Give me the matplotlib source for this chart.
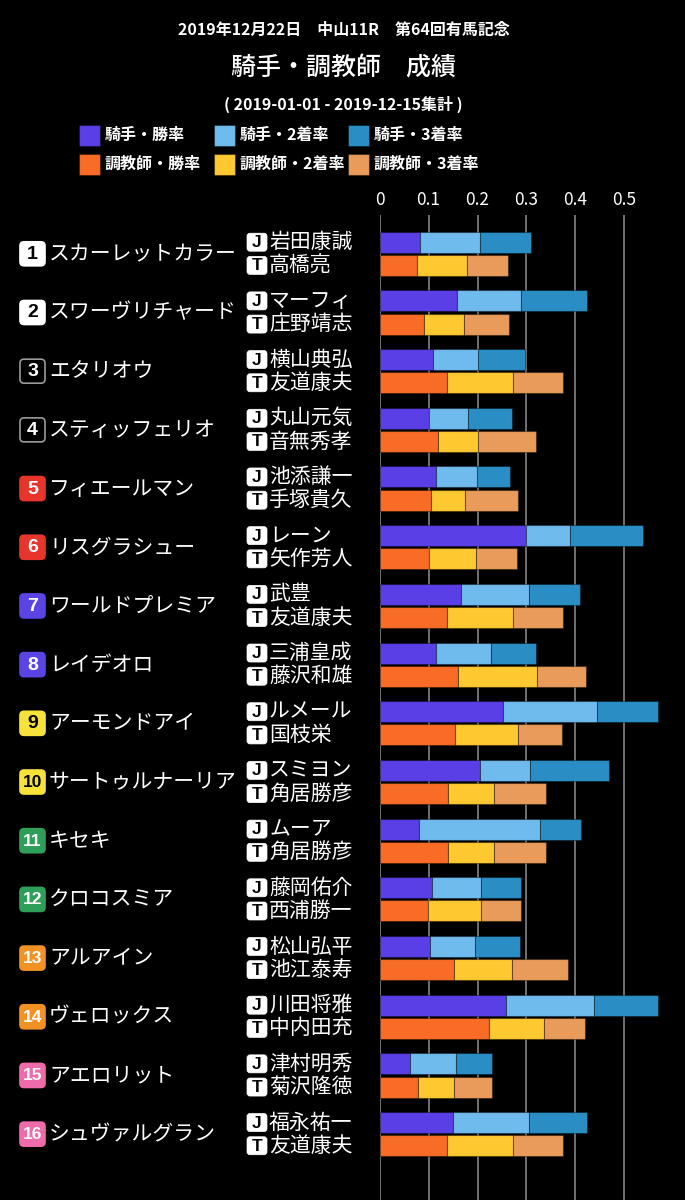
import matplotlib
matplotlib.use("Agg")
import matplotlib.pyplot as plt
from matplotlib.patches import FancyBboxPatch, Rectangle

plt.rcParams['font.family'] = ['Noto Sans CJK JP', 'DejaVu Sans']

# --- data ---
horse_nums = list(range(1, 17))
horses = ['スカーレットカラー', 'スワーヴリチャード', 'エタリオウ', 'スティッフェリオ',
          'フィエールマン', 'リスグラシュー', 'ワールドプレミア', 'レイデオロ',
          'アーモンドアイ', 'サートゥルナーリア', 'キセキ', 'クロコスミア',
          'アルアイン', 'ヴェロックス', 'アエロリット', 'シュヴァルグラン']
jockeys = ['岩田康誠', 'マーフィ', '横山典弘', '丸山元気', '池添謙一', 'レーン', '武豊', '三浦皇成',
           'ルメール', 'スミヨン', 'ムーア', '藤岡佑介', '松山弘平', '川田将雅', '津村明秀', '福永祐一']
trainers = ['高橋亮', '庄野靖志', '友道康夫', '音無秀孝', '手塚貴久', '矢作芳人', '友道康夫', '藤沢和雄',
            '国枝栄', '角居勝彦', '角居勝彦', '西浦勝一', '池江泰寿', '中内田充', '菊沢隆徳', '友道康夫']

# rates (stacked segments)
j_win = [.082, .159, .110, .101, .116, .299, .167, .116, .252, .206, .081, .106, .102, .259, .061, .149]
j_2nd = [.123, .129, .092, .079, .082, .091, .138, .111, .192, .102, .246, .102, .092, .180, .096, .156]
j_3rd = [.105, .135, .096, .091, .068, .148, .104, .092, .125, .160, .084, .081, .093, .130, .072, .119]
t_win = [.077, .091, .138, .119, .104, .100, .138, .160, .155, .140, .140, .099, .151, .224, .079, .138]
t_2nd = [.102, .081, .135, .081, .071, .097, .135, .162, .127, .093, .093, .109, .119, .112, .072, .135]
t_3rd = [.083, .092, .102, .119, .108, .083, .102, .099, .090, .108, .108, .081, .115, .083, .078, .102]

ticks = [0, 0.1, 0.2, 0.3, 0.4, 0.5]
tick_labels = ['0', '0.1', '0.2', '0.3', '0.4', '0.5']

legend_labels = ['騎手・勝率', '騎手・2着率', '騎手・3着率', '調教師・勝率', '調教師・2着率', '調教師・3着率']
j_colors = ['#5a3fe6', '#70bbee', '#2a8ec4']
t_colors = ['#f96c26', '#fec830', '#e89b5a']

waku_face = ['#ffffff', '#000000', '#e8352c', '#5a44e4', '#f7e23c', '#2d9f58', '#f29224', '#f06baa']
waku_text = ['black', 'white', 'white', 'white', 'black', 'white', 'white', 'white']

# --- layout (pixels) ---
W, H = 685, 1200
X0 = 379.7          # x pixel of value 0
PX_PER_UNIT = 489.0
TOP = 215
ROW0 = 253.8
STEP = 58.69
OFF = 11.6
BAR_H = 21

fig = plt.figure(figsize=(W / 100, H / 100), dpi=100, facecolor='black')

ax = fig.add_axes([X0 / W, 0, (W - X0) / W, (H - TOP) / H])
ax.set_facecolor('black')
ax.set_xlim(0, (W - X0) / PX_PER_UNIT)
ax.set_ylim(H, TOP)
for s in ax.spines.values():
    s.set_visible(False)
ax.set_xticks(ticks)
ax.set_xticklabels(tick_labels)
ax.xaxis.tick_top()
ax.tick_params(axis='x', length=0, pad=4, colors='white', labelsize=12.5)
ax.set_yticks([])
ax.grid(axis='x', color='#7a7a7a', linewidth=1.3)
ax.set_axisbelow(True)

rows_c = [ROW0 + STEP * i for i in range(len(horses))]
yj = [c - OFF for c in rows_c]
yt = [c + OFF for c in rows_c]

edge = (0, 0, 0, 0.35)
left = [0] * len(horses)
for seg, col in zip([j_win, j_2nd, j_3rd], j_colors):
    ax.barh(yj, seg, left=left, height=BAR_H, color=col, edgecolor=edge, linewidth=0.8)
    left = [a + b for a, b in zip(left, seg)]
left = [0] * len(horses)
for seg, col in zip([t_win, t_2nd, t_3rd], t_colors):
    ax.barh(yt, seg, left=left, height=BAR_H, color=col, edgecolor=edge, linewidth=0.8)
    left = [a + b for a, b in zip(left, seg)]

# overlay axes in pixel coordinates for labels
ov = fig.add_axes([0, 0, 1, 1])
ov.set_xlim(0, W)
ov.set_ylim(H, 0)
ov.axis('off')
ov.patch.set_alpha(0)

# titles
ov.text(W / 2 + 1, 30, '2019年12月22日　中山11R　第64回有馬記念', color='white',
        fontsize=11.5, fontweight='bold', ha='center', va='center')
ov.text(W / 2 + 1, 68, '騎手・調教師　成績', color='white', fontsize=18,
        fontweight='medium', ha='center', va='center')
ov.text(W / 2 + 1, 104, '( 2019-01-01 - 2019-12-15集計 )', color='white',
        fontsize=11.5, fontweight='bold', ha='center', va='center')

# legend
leg_x = [79, 214, 348]
leg_y = [135, 164]
leg_cols = j_colors + t_colors
for k, (lab, col) in enumerate(zip(legend_labels, leg_cols)):
    x = leg_x[k % 3]
    y = leg_y[k // 3]
    ov.add_patch(Rectangle((x, y - 10.5), 21, 21, facecolor=col, edgecolor=edge, linewidth=0.8))
    ov.text(x + 26, y, lab, color='white', fontsize=11.5, fontweight='bold', va='center', ha='left')

# horse rows
for i, (num, name, jn, tn) in enumerate(zip(horse_nums, horses, jockeys, trainers)):
    c = rows_c[i]
    w = (num + 1) // 2 - 1
    ec = '#9a9a9a' if waku_face[w] == '#000000' else waku_face[w]
    ov.add_patch(FancyBboxPatch((20, c - 12), 25, 24, boxstyle='round,pad=0,rounding_size=4',
                                facecolor=waku_face[w], edgecolor=ec, linewidth=1.2))
    ov.text(32.5, c + 0.5, str(num), color=waku_text[w], fontsize=14 if num < 10 else 12.5,
            fontweight='bold', ha='center', va='center', family='Liberation Sans')
    ov.text(49, c, name, color='white', fontsize=15, ha='left', va='center')

    for y, letter, person in [(yj[i], 'J', jn), (yt[i], 'T', tn)]:
        ov.add_patch(FancyBboxPatch((247, y - 9), 20, 18, boxstyle='round,pad=0,rounding_size=3',
                                    facecolor='white', edgecolor='white', linewidth=0.5))
        ov.text(257, y + 0.5, letter, color='black', fontsize=12.5, fontweight='bold',
                ha='center', va='center', family='Liberation Sans')
        ov.text(269, y, person, color='white', fontsize=15, ha='left', va='center')

fig.savefig('out.png', dpi=100, facecolor='black')
